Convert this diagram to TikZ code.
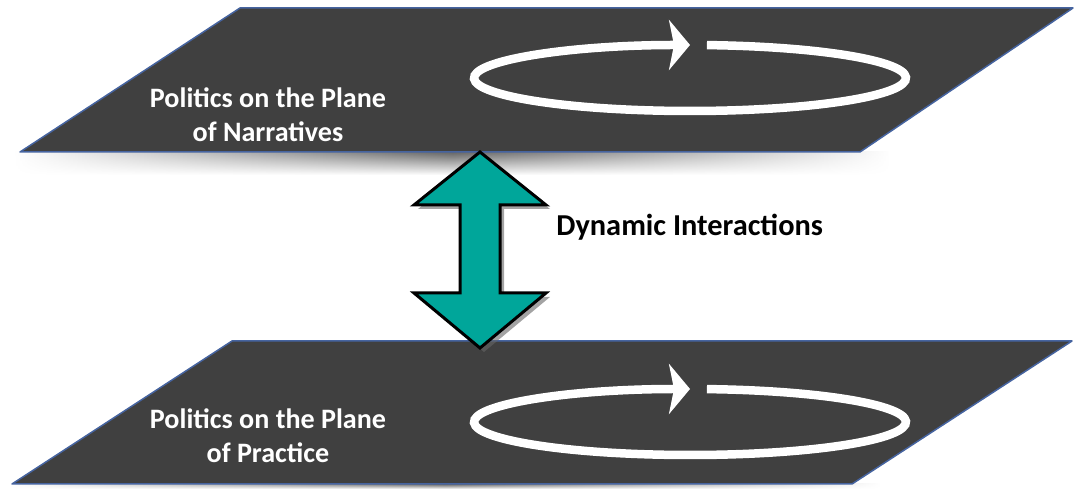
\documentclass[tikz,border=0pt]{standalone}
\usepackage{fontspec}
\setmainfont{Carlito}
\usepackage{tikz}
\usetikzlibrary{arrows.meta,shadows,fadings}
\definecolor{planegray}{RGB}{64,64,64}
\definecolor{planeedge}{RGB}{70,100,160}
\definecolor{arrowteal}{RGB}{0,166,154}
\tikzfading[name=fade sides, left color=transparent!100, right color=transparent!100, middle color=transparent!0]
\tikzset{plane/.style={fill=planegray, draw=planeedge, line width=0.03cm, line join=round},
    planeshadow/.style={top color=black!60, bottom color=white, path fading=fade sides},
    loopline/.style={draw=white, line width=0.17cm, -{Stealth[length=0.42cm,width=1.0cm,inset=0.1cm]}},
    planetext/.style={text=white, align=center, font=\bfseries\fontsize{16}{19.3}\selectfont},
    twoway/.style={fill=arrowteal, draw=black, line width=0.06cm, line join=miter,
        drop shadow={shadow xshift=0.08cm, shadow yshift=-0.08cm, opacity=0.6, fill=black!60}}}

\begin{document}
\begin{tikzpicture}[x=0.02cm, y=0.02cm]
    \useasboundingbox (0,0) rectangle (1074,489);

    \shade[planeshadow] (15,337) rectangle (890,314);
    \shade[planeshadow] (10,5) rectangle (880,0);

    % plane of narratives
    \draw[plane] (20,337) -- (860,337) -- (1073,481) -- (240,481) -- cycle;
    \node[planetext] (narrtext) at (268,374) {Politics on the Plane\\of Narratives};
    \draw[loopline] (690,411) ++(85.5:216 and 33)
        arc[start angle=85.5, end angle=-270, x radius=216, y radius=33];

    % plane of practice
    \draw[plane] (12,5) -- (852,5) -- (1072,148) -- (232,148) -- cycle;
    \node[planetext] (practext) at (268,53) {Politics on the Plane\\of Practice};
    \draw[loopline] (690,67) ++(85.5:216 and 33)
        arc[start angle=85.5, end angle=-270, x radius=216, y radius=33];

    \coordinate (narr) at (480,337);
    \coordinate (prac) at (480,141);
    \draw[twoway] (narr) -- ++(66,-53) -- ++(-46,0) -- ++(0,-88) -- ++(46,0)
        -- (prac) -- ++(-66,55) -- ++(46,0) -- ++(0,88) -- ++(-46,0) -- cycle;
    \node[anchor=west, font=\bfseries\fontsize{17.3}{20}\selectfont, inner sep=0pt] (dyn) at (556,262) {Dynamic Interactions};
\end{tikzpicture}
\end{document}
